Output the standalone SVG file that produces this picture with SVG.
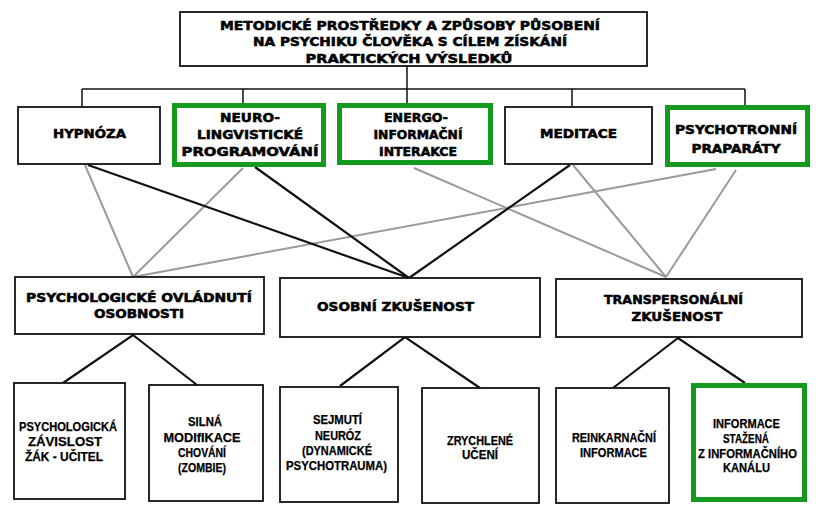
<svg xmlns="http://www.w3.org/2000/svg" width="822" height="515" viewBox="0 0 822 515">
<style>
.box{fill:#fff;stroke:#111;stroke-width:1.8}
.gbox{fill:#fff;stroke:#139a1f;stroke-width:5}
.h{font-family:"DejaVu Sans","Liberation Sans",sans-serif;font-weight:bold;font-size:12.5px;fill:#000;stroke:#000;stroke-width:0.55;text-anchor:middle}
.s{font-family:"Liberation Sans",Arial,sans-serif;font-weight:bold;font-size:12px;fill:#000;stroke:#000;stroke-width:0.25;text-anchor:middle}
.blk{stroke:#111;stroke-width:2.2;fill:none}
.gry{stroke:#9a9a9a;stroke-width:2;fill:none}
.thin{stroke:#111;stroke-width:1.5;fill:none}
</style>
<rect width="822" height="515" fill="#fff"/>
<g id="connectors">
<path class="thin" d="M407 66V104M82 89H745M82 89V107M243 89V104M572 89V106M745 89V106"/>
<line class="gry" x1="85" y1="165" x2="133" y2="277"/>
<line class="gry" x1="243" y1="168" x2="133" y2="277"/>
<line class="gry" x1="716" y1="169" x2="133" y2="277"/>
<line class="gry" x1="414" y1="168" x2="666" y2="277"/>
<line class="gry" x1="573" y1="165" x2="666" y2="277"/>
<line class="gry" x1="736" y1="170" x2="666" y2="277"/>
<line class="blk" x1="88" y1="165" x2="409" y2="278"/>
<line class="blk" x1="255" y1="167" x2="409" y2="278"/>
<line class="blk" x1="570" y1="165" x2="409" y2="278"/>
<path class="blk" d="M63 383L133 335L197 385"/>
<path class="blk" d="M340 386L405 337L480 388"/>
<path class="blk" d="M613 388L678 338L745 383"/>
</g>
<g id="root">
<rect class="box" x="180" y="12" width="467" height="54"/>
<text class="h" x="410" y="30" textLength="380" lengthAdjust="spacingAndGlyphs">METODICKÉ PROSTŘEDKY A ZPŮSOBY PŮSOBENÍ</text>
<text class="h" x="410" y="46" textLength="314" lengthAdjust="spacingAndGlyphs">NA PSYCHIKU ČLOVĚKA S CÍLEM ZÍSKÁNÍ</text>
<text class="h" x="409" y="63" textLength="207" lengthAdjust="spacingAndGlyphs">PRAKTICKÝCH VÝSLEDKŮ</text>
</g>
<g id="hypnoza">
<rect class="box" x="18" y="107" width="142" height="57"/>
<text class="h" x="89.5" y="138" textLength="73" lengthAdjust="spacingAndGlyphs">HYPNÓZA</text>
</g>
<g id="nlp">
<rect class="gbox" x="174.5" y="105.5" width="149" height="59"/>
<text class="h" x="250" y="122" textLength="60" lengthAdjust="spacingAndGlyphs">NEURO-</text>
<text class="h" x="250" y="139" textLength="106" lengthAdjust="spacingAndGlyphs">LINGVISTICKÉ</text>
<text class="h" x="250" y="156" textLength="137" lengthAdjust="spacingAndGlyphs">PROGRAMOVÁNÍ</text>
</g>
<g id="energo">
<rect class="gbox" x="339.5" y="105.5" width="151" height="57"/>
<text class="h" x="416" y="122" textLength="64" lengthAdjust="spacingAndGlyphs">ENERGO-</text>
<text class="h" x="418" y="139" textLength="89" lengthAdjust="spacingAndGlyphs">INFORMAČNÍ</text>
<text class="h" x="418" y="156" textLength="78" lengthAdjust="spacingAndGlyphs">INTERAKCE</text>
</g>
<g id="meditace">
<rect class="box" x="505" y="107" width="147" height="57"/>
<text class="h" x="578.5" y="138" textLength="77" lengthAdjust="spacingAndGlyphs">MEDITACE</text>
</g>
<g id="psychotronni">
<rect class="gbox" x="667.5" y="107.5" width="140" height="57"/>
<text class="h" x="736" y="134" textLength="122" lengthAdjust="spacingAndGlyphs">PSYCHOTRONNÍ</text>
<text class="h" x="736" y="153" textLength="89" lengthAdjust="spacingAndGlyphs">PRAPARÁTY</text>
</g>
<g id="ovladnuti">
<rect class="box" x="15" y="277" width="249" height="57"/>
<text class="h" x="139" y="302" textLength="226" lengthAdjust="spacingAndGlyphs">PSYCHOLOGICKÉ OVLÁDNUTÍ</text>
<text class="h" x="139" y="318" textLength="90" lengthAdjust="spacingAndGlyphs">OSOBNOSTI</text>
</g>
<g id="osobni">
<rect class="box" x="280" y="278" width="260" height="59"/>
<text class="h" x="395.5" y="311" textLength="157" lengthAdjust="spacingAndGlyphs">OSOBNÍ ZKUŠENOST</text>
</g>
<g id="transpersonalni">
<rect class="box" x="556" y="279" width="246" height="58"/>
<text class="h" x="673.5" y="304" textLength="139" lengthAdjust="spacingAndGlyphs">TRANSPERSONÁLNÍ</text>
<text class="h" x="677" y="321" textLength="91" lengthAdjust="spacingAndGlyphs">ZKUŠENOST</text>
</g>
<g id="zavislost">
<rect class="box" x="14" y="383" width="111" height="116"/>
<text class="s" x="68" y="431" textLength="98" lengthAdjust="spacingAndGlyphs">PSYCHOLOGICKÁ</text>
<text class="s" x="65" y="446" textLength="74" lengthAdjust="spacingAndGlyphs">ZÁVISLOST</text>
<text class="s" x="64" y="461" textLength="78" lengthAdjust="spacingAndGlyphs">ŽÁK - UČITEL</text>
</g>
<g id="zombie">
<rect class="box" x="149" y="385" width="114" height="116"/>
<text class="s" x="205" y="426" textLength="34" lengthAdjust="spacingAndGlyphs">SILNÁ</text>
<text class="s" x="202" y="442" textLength="77" lengthAdjust="spacingAndGlyphs">MODIfIKACE</text>
<text class="s" x="202" y="457" textLength="48" lengthAdjust="spacingAndGlyphs">CHOVÁNÍ</text>
<text class="s" x="202" y="472" textLength="48" lengthAdjust="spacingAndGlyphs">(ZOMBIE)</text>
</g>
<g id="neuroz">
<rect class="box" x="280" y="387" width="118" height="115"/>
<text class="s" x="337.5" y="424" textLength="49" lengthAdjust="spacingAndGlyphs">SEJMUTÍ</text>
<text class="s" x="338" y="440" textLength="46" lengthAdjust="spacingAndGlyphs">NEURÓZ</text>
<text class="s" x="337" y="455" textLength="70" lengthAdjust="spacingAndGlyphs">(DYNAMICKÉ</text>
<text class="s" x="336.5" y="470" textLength="101" lengthAdjust="spacingAndGlyphs">PSYCHOTRAUMA)</text>
</g>
<g id="uceni">
<rect class="box" x="422" y="388" width="117" height="115"/>
<text class="s" x="480" y="445" textLength="66" lengthAdjust="spacingAndGlyphs">ZRYCHLENÉ</text>
<text class="s" x="480" y="459" textLength="36" lengthAdjust="spacingAndGlyphs">UČENÍ</text>
</g>
<g id="reinkarnacni">
<rect class="box" x="556" y="388" width="113" height="115"/>
<text class="s" x="614" y="442" textLength="84" lengthAdjust="spacingAndGlyphs">REINKARNAČNÍ</text>
<text class="s" x="613.5" y="457" textLength="67" lengthAdjust="spacingAndGlyphs">INFORMACE</text>
</g>
<g id="kanal">
<rect class="gbox" x="693.5" y="385.5" width="111" height="114"/>
<text class="s" x="746.5" y="428" textLength="67" lengthAdjust="spacingAndGlyphs">INFORMACE</text>
<text class="s" x="746" y="443" textLength="46" lengthAdjust="spacingAndGlyphs">STAŽENÁ</text>
<text class="s" x="747.5" y="458" textLength="99" lengthAdjust="spacingAndGlyphs">Z INFORMAČNÍHO</text>
<text class="s" x="746.5" y="472" textLength="47" lengthAdjust="spacingAndGlyphs">KANÁLU</text>
</g>
</svg>
